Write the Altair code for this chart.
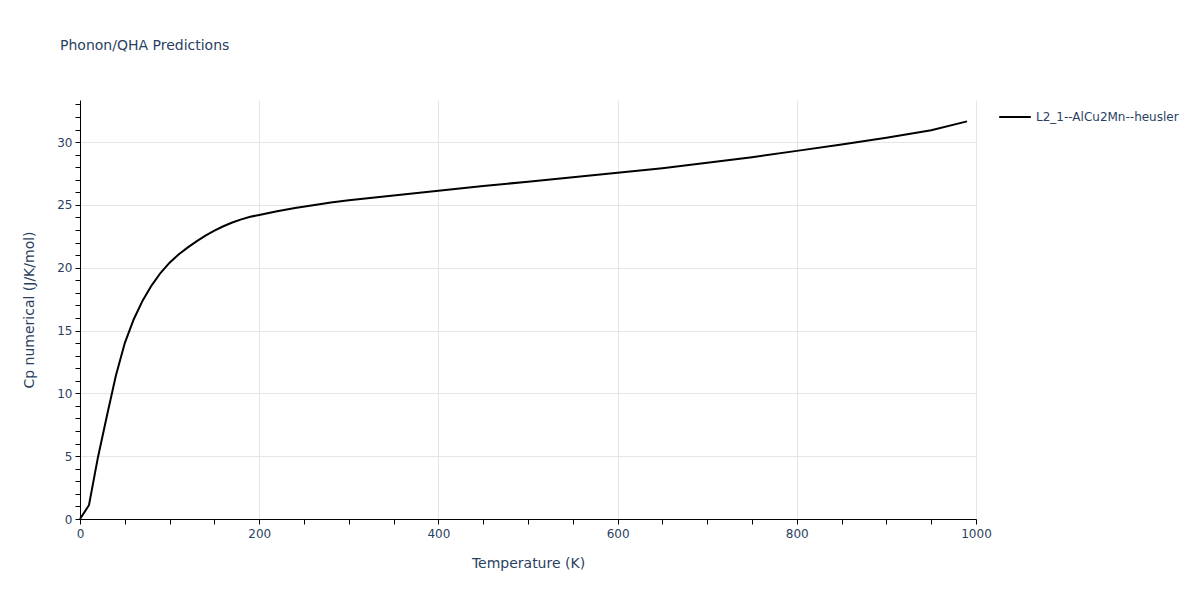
import altair as alt
import pandas as pd

temps = [0, 10, 20, 30, 40, 50, 60, 70, 80, 90, 100, 110, 120, 130, 140, 150,
         160, 170, 180, 190, 200, 220, 240, 260, 280, 300, 350, 400, 450, 500,
         550, 600, 650, 700, 750, 800, 850, 900, 950, 990]
cp = [0.0, 1.1, 4.9, 8.2, 11.4, 14.0, 15.9, 17.4, 18.6, 19.6, 20.4, 21.05, 21.6,
      22.1, 22.55, 22.95, 23.3, 23.6, 23.85, 24.05, 24.2, 24.5, 24.75, 24.97,
      25.2, 25.37, 25.75, 26.13, 26.5, 26.85, 27.2, 27.55, 27.92, 28.35, 28.8,
      29.3, 29.8, 30.35, 30.95, 31.65]
series = "L2_1--AlCu2Mn--heusler"

df = pd.DataFrame({"T": temps, "Cp": cp, "name": [series] * len(temps)})

FONT = "DejaVu Sans"
TXT = "#2a3f5f"
GRID = "#e5e5e5"

x_ticks = list(range(0, 1001, 50))
y_ticks = list(range(0, 34, 1))

chart = (
    alt.Chart(df)
    .mark_line(strokeWidth=2)
    .encode(
        x=alt.X(
            "T:Q",
            scale=alt.Scale(domain=[0, 1000], nice=False, zero=False),
            axis=alt.Axis(
                title="Temperature (K)",
                values=x_ticks,
                format="d",
                labelExpr="datum.value % 200 === 0 ? datum.label : ''",
                labelFlush=False,
                gridOpacity={"condition": {"test": "datum.value % 200 === 0 && datum.value > 0", "value": 1}, "value": 0},
                gridColor=GRID,
                domainColor="black",
                tickColor="black",
                tickSize=5,
                labelPadding=4,
                titlePadding=17,
            ),
        ),
        y=alt.Y(
            "Cp:Q",
            scale=alt.Scale(domain=[0, 33.35], nice=False),
            axis=alt.Axis(
                title="Cp numerical (J/K/mol)",
                values=y_ticks,
                labelExpr="datum.value % 5 === 0 ? datum.label : ''",
                labelFlush=False,
                gridOpacity={"condition": {"test": "datum.value % 5 === 0 && datum.value > 0", "value": 1}, "value": 0},
                gridColor=GRID,
                domainColor="black",
                tickColor="black",
                tickSize=5,
                labelPadding=3,
                titlePadding=20,
            ),
        ),
        color=alt.Color(
            "name:N",
            scale=alt.Scale(range=["black"]),
            legend=alt.Legend(
                title=None,
                orient="right",
                offset=22,
                symbolType="stroke",
                symbolStrokeWidth=2,
                symbolSize=1000,
                labelFont=FONT,
                labelFontSize=12,
                labelColor=TXT,
                padding=0,
            ),
        ),
    )
    .properties(
        width=896,
        height=419,
        title=alt.TitleParams(
            "Phonon/QHA Predictions",
            anchor="start",
            frame="group",
            dx=-20,
            offset=47,
            font=FONT,
            fontSize=14,
            fontWeight="normal",
            color=TXT,
        ),
        autosize=alt.AutoSizeParams(type="none"),
        padding={"left": 72, "top": 92, "right": 216, "bottom": 70},
    )
    .configure_axis(
        labelFont=FONT,
        labelFontSize=12,
        labelColor=TXT,
        titleFont=FONT,
        titleFontSize=14,
        titleFontWeight="normal",
        titleColor=TXT,
        gridWidth=1,
    )
    .configure_view(stroke=None)
)

chart.save("out.html", embed_options={"renderer": "svg", "actions": False})
